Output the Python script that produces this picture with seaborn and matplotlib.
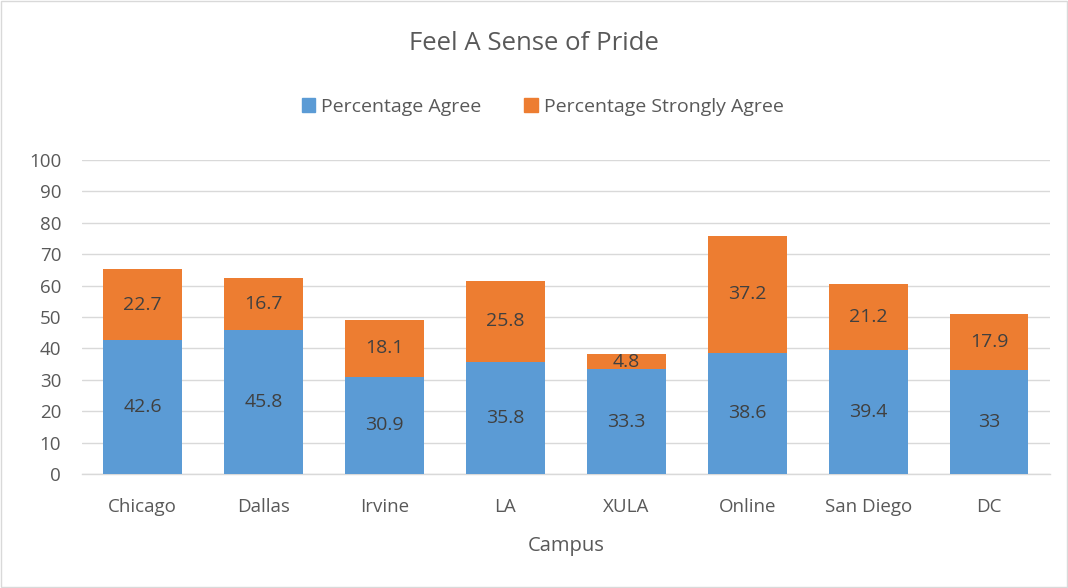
import pandas as pd
import matplotlib.pyplot as plt
import seaborn as sns
from matplotlib.patches import Patch, Rectangle

# Data
campus = ['Chicago', 'Dallas', 'Irvine', 'LA', 'XULA', 'Online', 'San Diego', 'DC']
agree = [42.6, 45.8, 30.9, 35.8, 33.3, 38.6, 39.4, 33]
strongly_agree = [22.7, 16.7, 18.1, 25.8, 4.8, 37.2, 21.2, 17.9]

df = pd.DataFrame({'campus': campus, 'agree': agree, 'strong': strongly_agree})
df['total'] = df['agree'] + df['strong']

blue = '#5B9BD5'
orange = '#ED7D31'
txt = '#595959'

sns.set_theme(style='white')
plt.rcParams['font.family'] = ['Open Sans', 'DejaVu Sans']

fig = plt.figure(figsize=(10.68, 5.88), dpi=100)
ax = fig.add_axes([0.0768, 0.194, 0.906, 0.534])

# stacked bars: total in orange, agree in blue on top
sns.barplot(data=df, x='campus', y='total', color=orange, saturation=1,
            width=0.65, ax=ax, zorder=2, linewidth=0)
sns.barplot(data=df, x='campus', y='agree', color=blue, saturation=1,
            width=0.65, ax=ax, zorder=3, linewidth=0)

for i, row in df.iterrows():
    ax.text(i, row['agree'] / 2, f"{row['agree']:g}", ha='center', va='center',
            fontsize=14, color='#404040', zorder=4)
    ax.text(i, row['agree'] + row['strong'] / 2, f"{row['strong']:g}",
            ha='center', va='center', fontsize=14, color='#404040', zorder=4)

ax.set_ylim(0, 100)
ax.set_xlim(-0.5, 7.5)
ax.set_yticks(range(0, 101, 10))
ax.yaxis.grid(True, color='#d9d9d9', linewidth=1, zorder=0)
ax.set_axisbelow(True)
for s in ['top', 'right', 'left']:
    ax.spines[s].set_visible(False)
ax.spines['bottom'].set_color('#d9d9d9')
ax.spines['bottom'].set_linewidth(1)
ax.tick_params(axis='both', length=0, labelsize=13.5, labelcolor=txt)
ax.tick_params(axis='y', pad=15)
ax.tick_params(axis='x', pad=17)
ax.set_ylabel('')
ax.set_xlabel('Campus', fontsize=14.5, color=txt, labelpad=15)

fig.suptitle('Feel A Sense of Pride', y=0.948, fontsize=18.5, color=txt)

handles = [Patch(color=blue, label='Percentage Agree'),
           Patch(color=orange, label='Percentage Strongly Agree')]
fig.legend(handles=handles, loc='center', bbox_to_anchor=(0.508, 0.818), ncol=2,
           frameon=False, fontsize=14, labelcolor=txt, handlelength=0.7,
           handleheight=0.7, handletextpad=0.3, columnspacing=2.2)

fig.patches.append(Rectangle((0.001, 0.001), 0.998, 0.998, transform=fig.transFigure,
                             fill=False, edgecolor='#d9d9d9', linewidth=1))

plt.savefig('out.png', dpi=100)
plt.close()
